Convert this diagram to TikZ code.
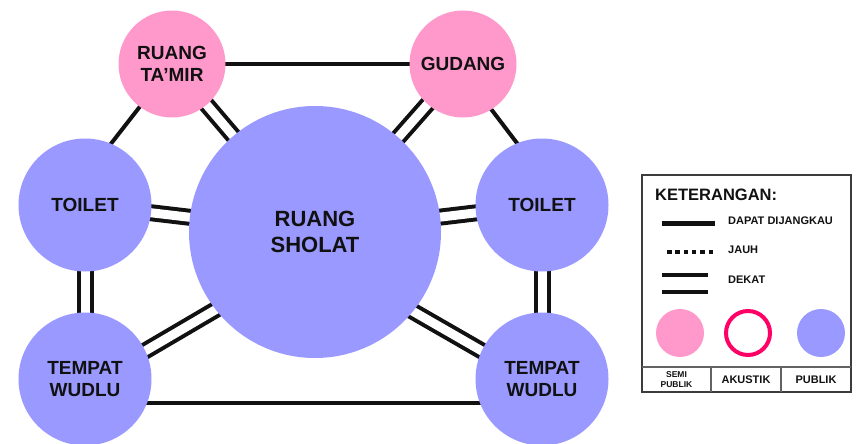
\documentclass[tikz,border=0pt]{standalone}
\usepackage{fontspec}
\setmainfont{Liberation Sans}
\usetikzlibrary{backgrounds}

\begin{document}
\begin{tikzpicture}[x=1pt, y=-1pt,
  room/.style={circle, inner sep=0pt, minimum size=133pt, fill=publikcol,
    align=center, text=ink, font=\bfseries\fontsize{19}{21.7}\selectfont},
  semiroom/.style={room, minimum size=107pt, fill=semicol},
  bigroom/.style={room, minimum size=252pt, font=\bfseries\fontsize{22}{25.7}\selectfont},
  jangkau/.style={draw=ink, line width=4pt},
  dekat/.style={draw=ink, line width=4pt, double=white, double distance=9pt},
  keylabel/.style={anchor=west, inner sep=0pt, text=ink, font=\bfseries\fontsize{11}{12}\selectfont},
  cell/.style={align=center, inner sep=0pt, text=ink, font=\bfseries\fontsize{11}{12}\selectfont}]

\definecolor{semicol}{RGB}{255,153,204}
\definecolor{publikcol}{RGB}{153,153,255}
\definecolor{akustikcol}{RGB}{255,0,102}
\definecolor{ink}{RGB}{17,17,17}
\definecolor{rule}{RGB}{60,60,60}

\useasboundingbox (0,0) rectangle (864,444);

% ---------------- rooms ----------------
\node[semiroom] (tm) at (172,64)  {RUANG\\TA'MIR};
\node[semiroom] (gd) at (463,64)  {GUDANG};
\node[bigroom]  (sh) at (315,232) {RUANG\\SHOLAT};
\node[room]     (tl) at (85,205)  {TOILET};
\node[room]     (tr) at (542,205) {TOILET};
\node[room]     (wl) at (85,379)  {TEMPAT\\WUDLU};
\node[room]     (wr) at (542,379) {TEMPAT\\WUDLU};

% ---------------- relations ----------------
\begin{pgfonlayer}{background}
  \draw[jangkau] (tm.center) -- (gd.center);
  \draw[jangkau, shorten <=-6pt, shorten >=-6pt] (tl.67) -- (tm.233);
  \draw[jangkau, shorten <=-6pt, shorten >=-6pt] (gd.302) -- (tr.112);
  \draw[jangkau, shorten <=-6pt, shorten >=-6pt] (wl.-21) -- (wr.201);
  \draw[dekat] (tm.center) -- (sh.center);
  \draw[dekat] (gd.center) -- (sh.center);
  \draw[dekat] (tl.center) -- (sh.center);
  \draw[dekat] (tr.center) -- (sh.center);
  \draw[dekat] (tl.center) -- (wl.center);
  \draw[dekat] (tr.center) -- (wr.center);
  \draw[dekat, shorten <=-8pt, shorten >=-8pt] (wl.25) -- (sh.218);
  \draw[dekat, shorten <=-8pt, shorten >=-8pt] (wr.155) -- (sh.321);
\end{pgfonlayer}

% ---------------- legend ----------------
\draw[rule, line width=2pt] (642,175) rectangle (851,392);
\draw[rule!80, line width=1.2pt] (642,367) -- (851,367);
\draw[rule!80, line width=1.2pt] (711,367) -- (711,392);
\draw[rule!80, line width=1.2pt] (781,367) -- (781,392);

\node[keylabel, font=\bfseries\fontsize{16.5}{18}\selectfont] (ket) at (655,195) {KETERANGAN:};

\draw[ink, line width=5pt] (662,223) -- (715,223);
\node[keylabel] (kdapat) at (728,221) {DAPAT DIJANGKAU};
\draw[ink, line width=4.5pt, dash pattern=on 4.5pt off 3.8pt] (667,252) -- (713,252);
\node[keylabel] (kjauh) at (728,250) {JAUH};
\draw[ink, line width=4pt] (662,275) -- (708,275);
\draw[ink, line width=4pt] (662,292) -- (708,292);
\node[keylabel] (kdekat) at (728,280) {DEKAT};

\node[circle, inner sep=0pt, minimum size=48pt, fill=semicol] (ksemi) at (680,333) {};
\node[circle, inner sep=0pt, minimum size=44pt, fill=white, draw=akustikcol, line width=4pt] (kakustik) at (748,333) {};
\node[circle, inner sep=0pt, minimum size=48pt, fill=publikcol] (kpublik) at (821,333) {};

\node[cell, font=\bfseries\fontsize{8.5}{10}\selectfont] (tsemi) at (676.5,380) {SEMI\\PUBLIK};
\node[cell] (takustik) at (746,380) {AKUSTIK};
\node[cell] (tpublik) at (816,380) {PUBLIK};

\end{tikzpicture}
\end{document}
